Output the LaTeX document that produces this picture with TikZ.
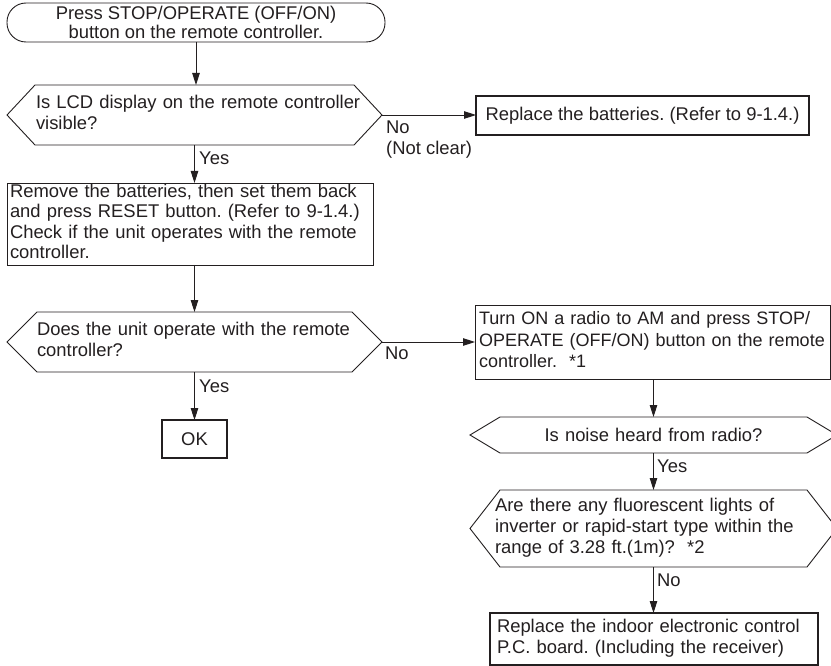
\documentclass[tikz,border=0pt]{standalone}
\usepackage{fontspec}
\setmainfont{Liberation Sans}
\usetikzlibrary{arrows.meta}
\definecolor{ink}{HTML}{231F20}
\frenchspacing
\newcommand{\hexout}[2]{\draw[hexline] (#1.west) -- ([xshift=#2]#1.north west) -- ([xshift=-#2]#1.north east) -- (#1.east) -- ([xshift=-#2]#1.south east) -- ([xshift=#2]#1.south west) -- cycle;}
\newcommand{\lines}[1]{\begin{tabular}{@{}l@{}}#1\end{tabular}}
\begin{document}
\begin{tikzpicture}[x=1pt,y=-1pt,
  base/.style={text=ink, font=\fontsize{18.4}{20.8}\selectfont, inner ysep=0pt, outer sep=0pt},
  thinbox/.style={base, draw=ink, line width=0.9pt, rectangle},
  thickbox/.style={base, draw=ink, line width=2.4pt, rectangle},
  hex/.style={base, rectangle},
  hexline/.style={draw=ink, line width=0.9pt, line join=miter},
  arr/.style={draw=ink, line width=0.9pt, -{Triangle[length=12pt,width=7.5pt]}},
  lbl/.style={text=ink, font=\fontsize{18.4}{20.8}\selectfont, inner sep=0pt}
]
\useasboundingbox[fill=white] (0,0) rectangle (831,666);

% nodes
\node[thinbox, rounded corners=19pt, minimum width=378pt, minimum height=39pt, inner xsep=0pt, align=center,
      font=\fontsize{18.4}{18.5}\selectfont] (start) at (196,22.5)
  {Press STOP/OPERATE (OFF/ON)\\button on the remote controller.};

\node[hex, text width=317pt, inner xsep=29pt, minimum height=60pt, align=left] (d1) at (194.5,115)
  {\raisebox{3pt}{\lines{Is LCD display on the remote controller\\visible?}}};
\hexout{d1}{28pt}

\node[thickbox, minimum width=333pt, minimum height=39pt, inner xsep=0pt, align=center] (bat) at (642.5,115.5)
  {Replace the batteries. (Refer to 9-1.4.)};

\node[thinbox, text width=360pt, inner xsep=3pt, minimum height=82pt, align=left,
      font=\fontsize{18.4}{20.4}\selectfont] (box2) at (190,224)
  {\lines{Remove the batteries, then set them back\\and press RESET button. (Refer to 9-1.4.)\\Check if the unit operates with the remote\\controller.}};

\node[hex, text width=315pt, inner xsep=30pt, minimum height=60pt, align=left] (d2) at (194.5,342)
  {\lines{Does the unit operate with the remote\\controller?}};
\hexout{d2}{30pt}

\node[thickbox, minimum width=65pt, minimum height=38pt, inner xsep=0pt] (ok) at (194.5,439) {OK};

\node[thinbox, text width=347pt, inner xsep=4pt, minimum height=74pt, align=left,
      font=\fontsize{18}{21.5}\selectfont] (radio) at (652.5,342)
  {\lines{Turn ON a radio to AM and press STOP/\\OPERATE (OFF/ON) button on the remote\\controller.\ \ *1}};

\node[hex, text width=307pt, inner xsep=30pt, minimum height=36pt, align=center] (noise) at (653.5,435)
  {Is noise heard from radio?};
\hexout{noise}{30pt}

\node[hex, text width=317pt, inner xsep=25pt, minimum height=77pt, align=left,
      font=\fontsize{18.4}{21.2}\selectfont] (fluo) at (653.5,528.5)
  {\lines{Are there any fluorescent lights of\\inverter or rapid-start type within the\\range of 3.28 ft.(1m)?\ \ *2}};
\hexout{fluo}{30pt}

\node[thickbox, text width=314pt, inner xsep=7pt, minimum height=52pt, align=left] (final) at (654,639)
  {\lines{Replace the indoor electronic control\\P.C. board. (Including the receiver)}};

% connectors
\draw[arr] (start) -- (start |- d1.north);
\draw[arr] (d1) -- (d1 |- box2.north);
\draw[arr] (d1.east) -- (d1.east -| bat.west);
\draw[arr] (box2.south -| d2.north) -- (d2.north);
\draw[arr] (d2) -- (d2 |- ok.north);
\draw[arr] (d2.east) -- (d2.east -| radio.west);
\draw[arr] (radio.south -| noise.north) -- (noise.north);
\draw[arr] (noise) -- (noise |- fluo.north);
\draw[arr] (fluo) -- (fluo |- final.north);

% labels
\node[lbl, anchor=west] (y1) at (199,158) {Yes};
\node[lbl, anchor=north west, align=left] (n1) at (386,120.5) {No\\(Not clear)};
\node[lbl, anchor=west] (y2) at (199,386) {Yes};
\node[lbl, anchor=west] (n2) at (385,353) {No};
\node[lbl, anchor=west] (y3) at (657,466) {Yes};
\node[lbl, anchor=west] (n3) at (657,580) {No};
\end{tikzpicture}
\end{document}
